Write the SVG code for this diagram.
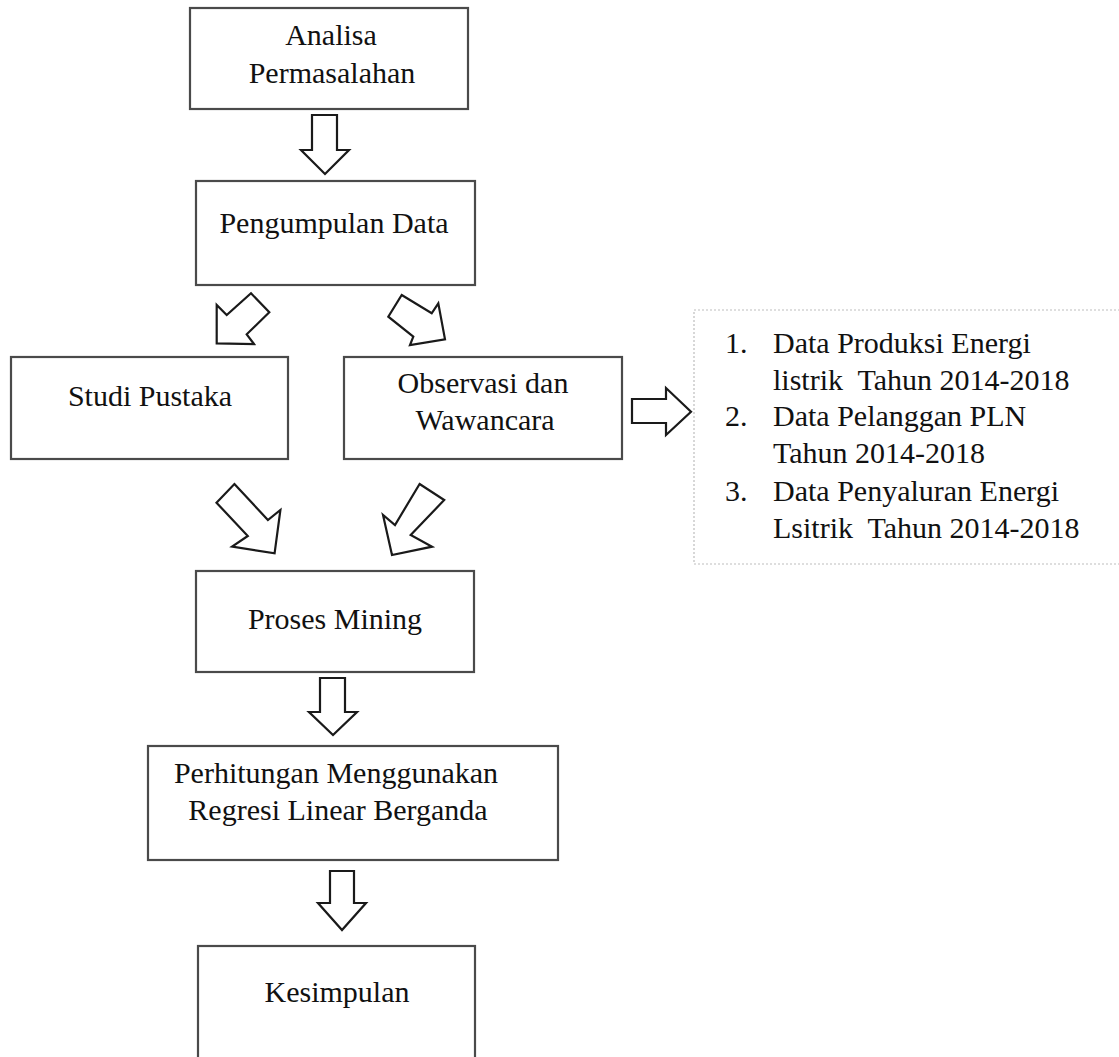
<svg xmlns="http://www.w3.org/2000/svg" width="1119" height="1057" viewBox="0 0 1119 1057">
<style>
.box{fill:#fff;stroke:#4a4a4a;stroke-width:2.2}
.note{fill:#fff;stroke:#bdbdbd;stroke-width:1.2;stroke-dasharray:2 2}
.arr{fill:#fff;stroke:#1a1a1a;stroke-width:2.2;stroke-linejoin:miter}
text{font-family:"Liberation Serif","Times New Roman",serif;font-size:30px;fill:#111}
.c{text-anchor:middle}
.pre{white-space:pre}
</style>
<rect width="1119" height="1057" fill="#fff"/>
<g id="connectors">
<polygon class="arr" points="312,115 337,115 337,150 349,150 325,174 301,150 312,150"/>
<polygon class="arr" points="251,293.3 269.3,312.3 246.7,334.3 254,344 216.7,343.3 216.7,305 226.7,315"/>
<polygon class="arr" points="401.7,295 431.7,313.3 438.3,303.3 445,339.3 410,345 413.3,336.7 388.3,316.7"/>
<polygon class="arr" points="632,399 666,399 666,388 691,411.7 666,435 666,423 632,423"/>
<polygon class="arr" points="234.4,484 267.9,520 280.4,510 274.6,553.3 232.1,546.7 247.8,536 216.5,502.7"/>
<polygon class="arr" points="419.6,484 444.2,500 410.7,535 432.1,546.7 392,555 383,515 395,525"/>
<polygon class="arr" points="320,678 345,678 345,712 357,712 333,735 309,712 320,712"/>
<polygon class="arr" points="330,871 354,871 354,903 366,903 342,930 318,903 330,903"/>
</g>
<g id="analisa">
<rect class="box" x="190" y="8" width="278" height="101"/>
<text class="c" x="331" y="45">Analisa</text>
<text class="c" x="332" y="83">Permasalahan</text>
</g>
<g id="pengumpulan">
<rect class="box" x="196" y="181" width="279" height="104"/>
<text class="c" x="334" y="233">Pengumpulan Data</text>
</g>
<g id="studi">
<rect class="box" x="11" y="357" width="277" height="102"/>
<text class="c" x="150" y="406">Studi Pustaka</text>
</g>
<g id="observasi">
<rect class="box" x="344" y="357" width="278" height="102"/>
<text class="c" x="483" y="393">Observasi dan</text>
<text class="c" x="485" y="430">Wawancara</text>
</g>
<g id="data-list">
<rect class="note" x="694" y="310" width="440" height="254"/>
<text x="725" y="353">1.</text>
<text x="773" y="353">Data Produksi Energi</text>
<text class="pre" x="773" y="390">listrik  Tahun 2014-2018</text>
<text x="725" y="426">2.</text>
<text x="773" y="426">Data Pelanggan PLN</text>
<text x="773" y="463">Tahun 2014-2018</text>
<text x="725" y="501">3.</text>
<text x="773" y="501">Data Penyaluran Energi</text>
<text class="pre" x="773" y="538">Lsitrik  Tahun 2014-2018</text>
</g>
<g id="proses">
<rect class="box" x="196" y="571" width="278" height="101"/>
<text class="c" x="335" y="629">Proses Mining</text>
</g>
<g id="perhitungan">
<rect class="box" x="148" y="746" width="410" height="114"/>
<text class="c" x="336" y="783">Perhitungan Menggunakan</text>
<text class="c" x="338" y="820">Regresi Linear Berganda</text>
</g>
<g id="kesimpulan">
<rect class="box" x="198" y="946" width="277" height="130"/>
<text class="c" x="337" y="1002">Kesimpulan</text>
</g>
</svg>
